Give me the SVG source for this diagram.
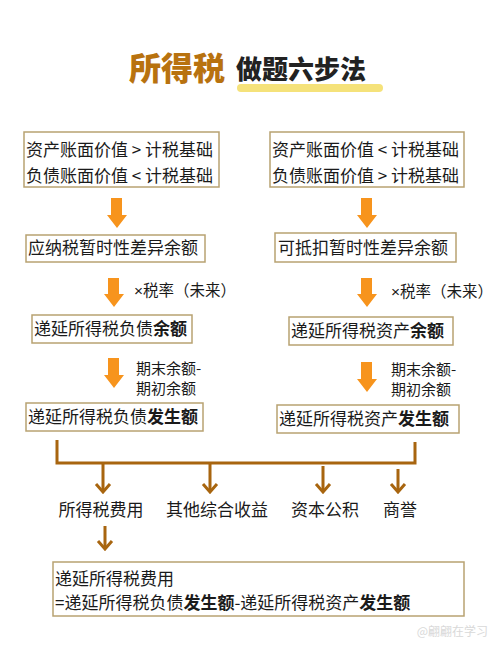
<svg xmlns="http://www.w3.org/2000/svg" width="500" height="650" viewBox="0 0 500 650">
<defs>
<style>
text{font-family:"Noto Sans CJK SC","Noto Sans",sans-serif;fill:#1a1a1a}
.t{font-size:17px}
.s{font-size:15.5px}
.m{font-size:15px}
.x{font-family:"Liberation Sans",sans-serif}
.b{font-weight:bold}
.box{fill:#fff;stroke:#b8a272;stroke-width:1.5}
.oa{fill:#f7941d}
.br{fill:none;stroke:#a8650f;stroke-width:3}
.ba{fill:none;stroke:#a8650f;stroke-width:3;stroke-linejoin:miter}
</style>
</defs>
<rect width="500" height="650" fill="#fff"/>
<g id="title">
<rect x="237" y="84" width="146" height="8" rx="4" fill="#f5e27a"/>
<text x="129" y="80" font-size="32" font-weight="900" style="fill:#b8720f">所得税</text>
<text x="236" y="79" font-size="26" font-weight="900" style="fill:#222">做题六步法</text>
</g>
<g id="n1"><rect class="box" x="24" y="132" width="195" height="55"/>
<text class="t" x="26" y="156">资产账面价值 &gt; 计税基础</text>
<text class="t" x="26" y="182">负债账面价值 &lt; 计税基础</text></g>
<g id="n2"><rect class="box" x="270" y="132" width="194" height="55"/>
<text class="t" x="272" y="156">资产账面价值 &lt; 计税基础</text>
<text class="t" x="272" y="182">负债账面价值 &gt; 计税基础</text></g>
<g id="n3"><rect class="box" x="26" y="235" width="179" height="27"/>
<text class="t" x="28" y="254">应纳税暂时性差异余额</text></g>
<g id="n4"><rect class="box" x="275" y="233" width="181" height="29"/>
<text class="t" x="278" y="254">可抵扣暂时性差异余额</text></g>
<g id="n5"><rect class="box" x="32" y="315" width="160" height="28"/>
<text class="t" x="34" y="335">递延所得税负债<tspan class="b">余额</tspan></text></g>
<g id="n6"><rect class="box" x="289" y="317" width="164" height="28"/>
<text class="t" x="291" y="337">递延所得税资产<tspan class="b">余额</tspan></text></g>
<g id="n7"><rect class="box" x="26" y="403" width="177" height="28"/>
<text class="t" x="28" y="423">递延所得税负债<tspan class="b">发生额</tspan></text></g>
<g id="n8"><rect class="box" x="277" y="405" width="182" height="28"/>
<text class="t" x="279" y="425">递延所得税资产<tspan class="b">发生额</tspan></text></g>
<g id="labels">
<text class="s" x="134" y="296"><tspan class="x">×</tspan>税率（未来）</text>
<text class="s" x="391" y="297"><tspan class="x">×</tspan>税率（未来）</text>
<text class="m" x="136" y="374">期末余额-</text>
<text class="m" x="136" y="394">期初余额</text>
<text class="m" x="391" y="375">期末余额-</text>
<text class="m" x="391" y="395">期初余额</text>
</g>
<g id="n9"><text class="t" x="101" y="516" text-anchor="middle">所得税费用</text></g>
<g id="n10"><text class="t" x="217" y="516" text-anchor="middle">其他综合收益</text></g>
<g id="n11"><text class="t" x="325" y="516" text-anchor="middle">资本公积</text></g>
<g id="n12"><text class="t" x="400" y="516" text-anchor="middle">商誉</text></g>
<g id="n13"><rect class="box" x="53" y="562" width="411" height="54"/>
<text class="t" x="55" y="585">递延所得税费用</text>
<text class="t" x="55" y="609">=递延所得税负债<tspan class="b">发生额</tspan>-递延所得税资产<tspan class="b">发生额</tspan></text></g>
<g id="connectors">
<path class="oa" d="M111 198h11v17h5l-10 13l-10-13h4z"/>
<path class="oa" d="M361 198h11v17h5l-10 13l-10-13h4z"/>
<path class="oa" d="M108 278h11v16h5l-10 13l-10-13h4z"/>
<path class="oa" d="M361 278h11v16h5l-10 13l-10-13h4z"/>
<path class="oa" d="M108 358h11v17h5l-10 13l-10-13h4z"/>
<path class="oa" d="M361 362h11v17h5l-10 13l-10-13h4z"/>
<path class="br" d="M57 440V463H415V442"/>
<path class="br" d="M103 463V492M210 463V492M323 466V492M398 469V492M105 526V549"/>
<path class="ba" d="M96 484l7 8l7-8M203 484l7 8l7-8M316 484l7 8l7-8M391 484l7 8l7-8M98 541l7 8l7-8"/>
</g>
<text x="488" y="636" text-anchor="end" font-size="12" style="fill:#d9d9d9">@翩翩在学习</text>
</svg>
